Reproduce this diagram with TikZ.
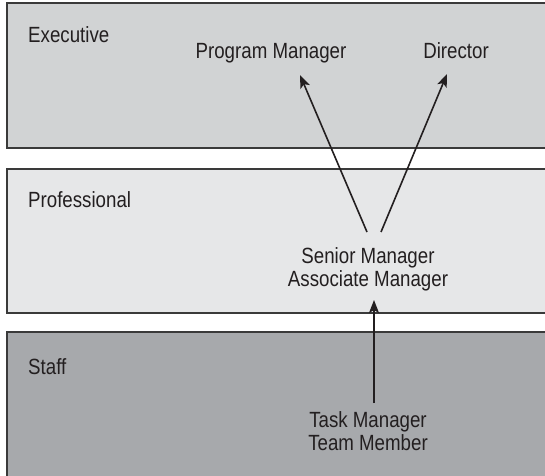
\documentclass[tikz,border=0pt]{standalone}
\usepackage{fontspec}
\setmainfont[FakeStretch=0.85]{Liberation Sans}
\usepackage{tikz}
\usetikzlibrary{arrows.meta, positioning}
\definecolor{execgray}{HTML}{D1D3D4}
\definecolor{profgray}{HTML}{E6E7E8}
\definecolor{staffgray}{HTML}{A7A9AC}
\definecolor{inkdark}{HTML}{231F20}
\definecolor{edgegray}{HTML}{3A3A3A}

\begin{document}
\begin{tikzpicture}[
    x=1pt, y=1pt,
    band/.style={draw=edgegray, line width=1.2pt, fill=#1},
    tier/.style={inner sep=0pt, anchor=base west, font=\fontsize{22}{23}\selectfont, text=inkdark},
    role/.style={inner sep=0pt, anchor=base, align=center, font=\fontsize{22}{23}\selectfont, text=inkdark},
    link/.style={-{Stealth[length=13pt, width=10pt, inset=3pt]}, line width=1.6pt, inkdark},
]
    \useasboundingbox (0,0) rectangle (545,475);
    \clip (0,0) rectangle (545,475);

    % Bands
    \draw[band=execgray] (7,472) rectangle (560,327);
    \draw[band=profgray] (7,306) rectangle (560,162);
    \draw[band=staffgray] (7,143) rectangle (560,-20);

    \node[tier] (exec) at (28,432) {Executive};
    \node[tier] (prof) at (28,268) {Professional};
    \node[tier] (staff) at (28,101) {Staff};

    % Roles (base = last line)
    \node[role] (pm) at (271,417) {Program Manager};
    \node[role] (dir) at (456,417) {Director};
    \node[role] (senior) at (368,189) {Senior Manager\\Associate Manager};
    \node[role] (task) at (368,25) {Task Manager\\Team Member};

    % Promotions
    \draw[link] ([shift={(-1,54)}]senior.base) -- ([shift={(29,-17)}]pm.base);
    \draw[link] ([shift={(13,54)}]senior.base) -- ([shift={(-9,-16)}]dir.base);
    \draw[link] ([shift={(6,47)}]task.base) -- ([shift={(6,-14)}]senior.base);

\end{tikzpicture}
\end{document}
